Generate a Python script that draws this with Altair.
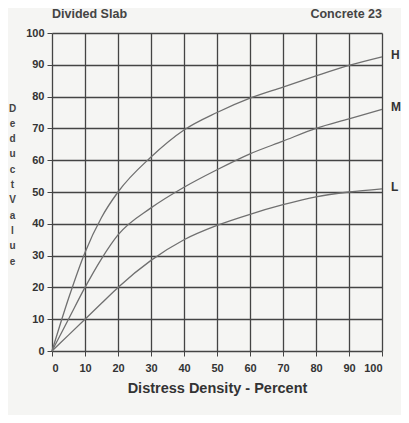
import altair as alt
import pandas as pd

density = [0, 5, 10, 15, 20, 30, 40, 50, 60, 70, 80, 90, 100]
high = [0, 16.5, 31, 42, 50, 61, 69.5, 75, 79.5, 83, 86.5, 89.8, 92.5]
medium = [0, 10, 20, 29, 36.5, 45, 51.5, 57, 62, 66, 70, 73, 76]
low = [0, 5, 10, 15, 20, 28.5, 35, 39.5, 43, 46, 48.5, 50, 51]
levels = ["H", "M", "L"]
ticks = list(range(0, 101, 10))

rows = []
for lvl, vals in zip(levels, [high, medium, low]):
    for d, v in zip(density, vals):
        rows.append({"density": d, "value": v, "level": lvl})
df = pd.DataFrame(rows)
ends = pd.DataFrame({"density": [100, 100, 100], "value": [high[-1], medium[-1], low[-1]], "level": levels})

font = "Liberation Sans"
xs = alt.Scale(domain=[0, 100], nice=False)
ys = alt.Scale(domain=[0, 100], nice=False)

ytitle = ["D", "e", "d", "u", "c", "t", " ", "V", "a", "l", "u", "e"]

ax_x = alt.Axis(
    values=ticks, title="Distress Density - Percent",
    grid=True, gridColor="#444", gridWidth=1.3, gridOpacity=1,
    domain=False, tickColor="#444", tickSize=5, labelOverlap=False,
    labelFont=font, labelFontWeight="bold", labelFontSize=11, labelColor="#333", labelPadding=6,
    titleFont=font, titleFontWeight="bold", titleFontSize=14.5, titleColor="#333", titlePadding=8)
ax_y = alt.Axis(
    values=ticks, title=ytitle, titleAngle=0,
    titleX=-40, titleY=70, titleBaseline="top", titleLineHeight=15.3, titleAlign="center",
    grid=True, gridColor="#444", gridWidth=1.3, gridOpacity=1,
    domain=False, tickColor="#444", tickSize=5, labelOverlap=False,
    labelFont=font, labelFontWeight="bold", labelFontSize=11, labelColor="#333", labelPadding=3,
    titleFont=font, titleFontWeight="bold", titleFontSize=10, titleColor="#444")

lines = alt.Chart(df).mark_line(color="#707070", strokeWidth=1.3, interpolate="monotone").encode(
    x=alt.X("density:Q", scale=xs, axis=ax_x),
    y=alt.Y("value:Q", scale=ys, axis=ax_y),
    detail="level:N",
)

labels = alt.Chart(ends).mark_text(align="left", dx=9, dy=-2, font=font, fontWeight="bold", fontSize=12, color="#333").encode(
    x=alt.X("density:Q", scale=xs, axis=ax_x), y=alt.Y("value:Q", scale=ys, axis=ax_y), text="level:N")

left_title = alt.Chart(pd.DataFrame({"t": ["Divided Slab"]})).mark_text(align="left", baseline="middle", font=font, fontWeight="bold", fontSize=12.5, color="#444").encode(
    x=alt.value(0), y=alt.value(-19), text="t:N")
right_title = alt.Chart(pd.DataFrame({"t": ["Concrete 23"]})).mark_text(align="right", baseline="middle", font=font, fontWeight="bold", fontSize=12.5, color="#444").encode(
    x=alt.value(330), y=alt.value(-19), text="t:N")

chart = alt.layer(lines, labels, left_title, right_title).properties(
    width=330, height=318,
    background="#f5f5f3",
    padding={"left": 44, "top": 25, "right": 19, "bottom": 64},
    autosize=alt.AutoSizeParams(type="none"),
).configure_view(stroke=None)

chart.save("out.html", embed_options={"renderer": "svg", "actions": False})
